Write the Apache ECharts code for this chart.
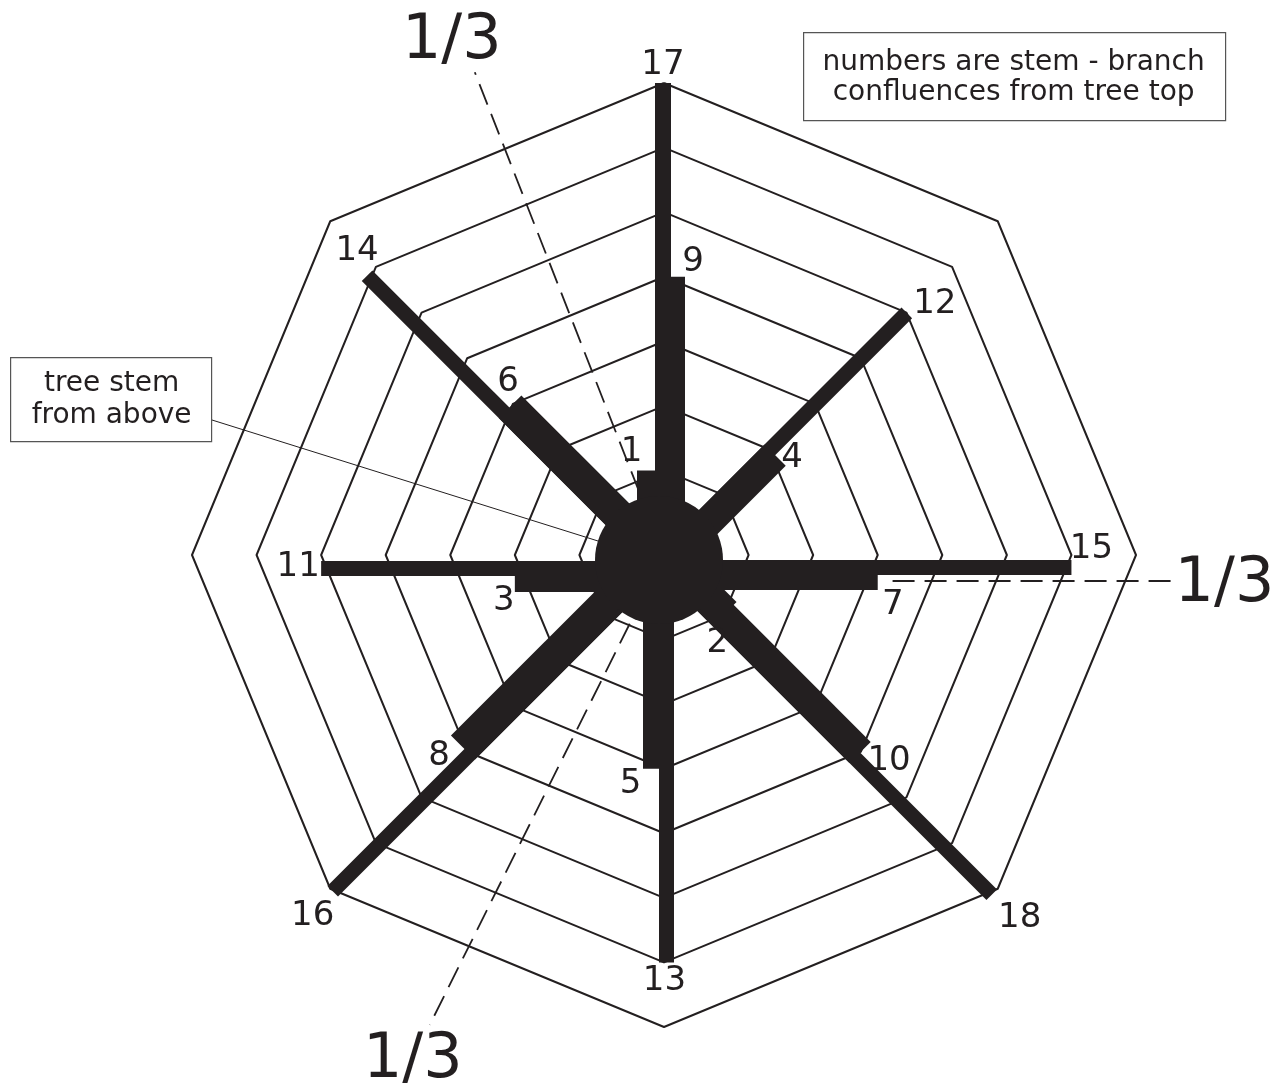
<!DOCTYPE html>
<html>
<head>
<meta charset="utf-8">
<style>
  html, body { margin: 0; padding: 0; background: #ffffff; }
  #chart { width: 1284px; height: 1085px; }
</style>
<script src="https://cdn.jsdelivr.net/npm/echarts@6/dist/echarts.min.js"></script>
</head>
<body>
<div id="chart"></div>
<script>
// Stem-branch confluences, numbered from the tree top downwards.
const branchNumbers  = [1, 2, 3, 4, 5, 6, 7, 8, 9, 10, 11, 12, 13, 14, 15, 16, 17, 18];
// Compass bearing of each branch (degrees, clockwise from north).
const branchBearings = [0, 135, 270, 45, 180, 315, 90, 225, 0, 135, 270, 45, 180, 315, 90, 225, 0, 135];
// Branch length, counted in rings out from the stem.
const branchRings    = [1, 1, 2, 2, 3, 3, 3, 4, 4, 4, 5, 5, 6, 6, 6, 7, 7, 7];
// Concentric rings and the eight spokes of the grid.
const ringLevels     = [1, 2, 3, 4, 5, 6, 7];
const spokeBearings  = [0, 45, 90, 135, 180, 225, 270, 315];
// Lines splitting the crown into thirds (bearing in degrees).
const thirdsBearings = [338.6, 90, 206.5];
const thirdsLabels   = ['1/3', '1/3', '1/3'];

// ---- layout & style ----
const INK = '#231f20';
const FONT = '"DejaVu Sans", "Noto Sans", sans-serif';
const CENTER = [664, 555];
const RADIUS = 472;
const MAX_RING = 7;
const RING_OFFSET = 0.31;            // gap between stem centre and the ring scale, in ring units
const EXTENT = MAX_RING + RING_OFFSET;

// Lateral extent of each bar across its spoke, px (positive = clockwise side).
const BAR_SPAN = {
  1: [-27, 20], 2: [-18, 14], 3: [-37, -6], 4: [-7, 23], 5: [-10, 21], 6: [-20, 12],
  7: [5, 35], 8: [-11, 23], 9: [-9, 21], 10: [-14, 16], 11: [-21, -6], 12: [-7, 8],
  13: [-10, 5], 14: [-20, -5], 15: [5, 20], 16: [-11, 4], 17: [-9, 7], 18: [1, 16]
};
// Number label placement relative to the bar tip, px.
const LABEL_OFFSET = {
  1: [-29, -18], 2: [-8, 30], 3: [-11, 25], 4: [17, 3], 5: [-28, 15], 6: [-2, -25],
  7: [15, 30], 8: [-24, 9], 9: [23, -15], 10: [29, 9], 11: [-23, -1], 12: [28, -9],
  13: [-2, 19], 14: [-10, -25], 15: [20, -18], 16: [-20, 25], 17: [0, -18], 18: [28, 23]
};
// Dashed third lines: radial span (axis units from centre), sideways shift and label offset.
const THIRDS_LAYOUT = [
  { from: 1.05, to: 8.03, lateral: 0,  label: [-23, -30] },
  { from: 3.54, to: 7.86, lateral: 26, label: [53, 4] },
  { from: 1.19, to: 8.13, lateral: 0,  label: [-17, 36] }
];

const chart = echarts.init(document.getElementById('chart'), null, { renderer: 'canvas' });

// Geometry of a radial segment in pixel space.
function radialFrame(api, bearing, dist) {
  const rad = bearing * Math.PI / 180;
  const o = api.coord([0, 0]);
  const t = api.coord([dist * Math.sin(rad), dist * Math.cos(rad)]);
  const L = Math.hypot(t[0] - o[0], t[1] - o[1]) || 1;
  const dx = (t[0] - o[0]) / L, dy = (t[1] - o[1]) / L;
  return { o, t, n: [-dy, dx] };
}

const barData = branchNumbers.map((num, i) => [num, branchBearings[i], branchRings[i]]);
const thirdsData = thirdsBearings.map((b, i) => [i, b]);

const option = {
  animation: false,
  backgroundColor: '#ffffff',
  radar: {
    center: CENTER,
    radius: RADIUS,
    startAngle: 90,
    shape: 'polygon',
    splitNumber: 1,
    indicator: spokeBearings.map(() => ({ name: '', min: -RING_OFFSET, max: MAX_RING })),
    axisName: { show: false },
    axisLine: { show: false },
    axisTick: { show: false },
    axisLabel: { show: false },
    splitLine: { show: false },
    splitArea: { show: false }
  },
  grid: {
    left: CENTER[0] - RADIUS, top: CENTER[1] - RADIUS,
    width: 2 * RADIUS, height: 2 * RADIUS
  },
  xAxis: { type: 'value', min: -EXTENT, max: EXTENT, show: false },
  yAxis: { type: 'value', min: -EXTENT, max: EXTENT, show: false },
  series: [
    {
      name: 'rings',
      type: 'radar',
      silent: true,
      z: 1,
      symbol: 'none',
      lineStyle: { color: INK, width: 2, opacity: 1 },
      areaStyle: null,
      data: ringLevels.map(k => ({ name: 'ring ' + k, value: spokeBearings.map(() => k) }))
    },
    {
      name: 'thirds',
      type: 'custom',
      coordinateSystem: 'cartesian2d',
      silent: true,
      z: 2,
      data: thirdsData,
      renderItem(params, api) {
        const i = api.value(0);
        const lay = THIRDS_LAYOUT[i];
        const f = radialFrame(api, api.value(1), lay.to);
        const dLen = Math.hypot(f.t[0] - f.o[0], f.t[1] - f.o[1]);
        const u = [(f.t[0] - f.o[0]) / dLen, (f.t[1] - f.o[1]) / dLen];
        const px = dLen / lay.to;
        const p1 = [f.o[0] + u[0] * lay.from * px + f.n[0] * lay.lateral,
                    f.o[1] + u[1] * lay.from * px + f.n[1] * lay.lateral];
        const p2 = [f.t[0] + f.n[0] * lay.lateral, f.t[1] + f.n[1] * lay.lateral];
        return {
          type: 'group',
          children: [
            {
              type: 'polyline',
              shape: { points: [p1, p2] },
              style: { stroke: INK, lineWidth: 1.8, lineDash: [22, 10], fill: null }
            },
            {
              type: 'text',
              x: p2[0] + lay.label[0], y: p2[1] + lay.label[1],
              z2: 50,
              style: {
                text: thirdsLabels[i], fill: INK, font: '62px ' + FONT,
                align: 'center', verticalAlign: 'middle'
              }
            }
          ]
        };
      }
    },
    {
      name: 'branches',
      type: 'custom',
      coordinateSystem: 'cartesian2d',
      silent: true,
      z: 3,
      data: barData,
      renderItem(params, api) {
        const num = api.value(0);
        const f = radialFrame(api, api.value(1), api.value(2) + RING_OFFSET);
        const [a, b] = BAR_SPAN[num];
        const n = f.n;
        const pts = [
          [f.o[0] + n[0] * a, f.o[1] + n[1] * a],
          [f.t[0] + n[0] * a, f.t[1] + n[1] * a],
          [f.t[0] + n[0] * b, f.t[1] + n[1] * b],
          [f.o[0] + n[0] * b, f.o[1] + n[1] * b]
        ];
        const mid = (a + b) / 2;
        const tip = [f.t[0] + n[0] * mid, f.t[1] + n[1] * mid];
        const off = LABEL_OFFSET[num];
        return {
          type: 'group',
          children: [
            { type: 'polygon', shape: { points: pts }, style: { fill: INK } },
            {
              type: 'text', x: tip[0] + off[0], y: tip[1] + off[1], z2: 100,
              style: {
                text: String(num), fill: INK, font: '34px ' + FONT,
                align: 'center', verticalAlign: 'middle'
              }
            }
          ]
        };
      }
    },
    {
      name: 'stem',
      type: 'scatter',
      silent: true,
      z: 4,
      symbol: 'circle',
      symbolSize: 128,
      symbolOffset: [-5, 5],
      itemStyle: { color: INK, opacity: 1 },
      data: [[0, 0]]
    }
  ],
  graphic: [
    {
      type: 'group', left: 803, top: 32,
      children: [
        { type: 'rect', shape: { x: 0, y: 0, width: 422, height: 88 },
          style: { fill: '#ffffff', stroke: '#555555', lineWidth: 1.2 } },
        { type: 'text', x: 210, y: 45,
          style: { text: 'numbers are stem - branch\nconfluences from tree top', fill: INK,
                   font: '28px ' + FONT, lineHeight: 30, align: 'center', verticalAlign: 'middle' } }
      ]
    },
    {
      type: 'group', left: 10, top: 357,
      children: [
        { type: 'rect', shape: { x: 0, y: 0, width: 201, height: 84 },
          style: { fill: '#ffffff', stroke: '#555555', lineWidth: 1.2 } },
        { type: 'text', x: 101, y: 42,
          style: { text: 'tree stem\nfrom above', fill: INK,
                   font: '28px ' + FONT, lineHeight: 32, align: 'center', verticalAlign: 'middle' } }
      ]
    },
    {
      type: 'line', z: 5,
      shape: { x1: 212, y1: 420, x2: CENTER[0] - 5 - 61, y2: CENTER[1] + 5 - 19 },
      style: { stroke: INK, lineWidth: 1 }
    }
  ]
};

chart.setOption(option);
</script>
</body>
</html>
